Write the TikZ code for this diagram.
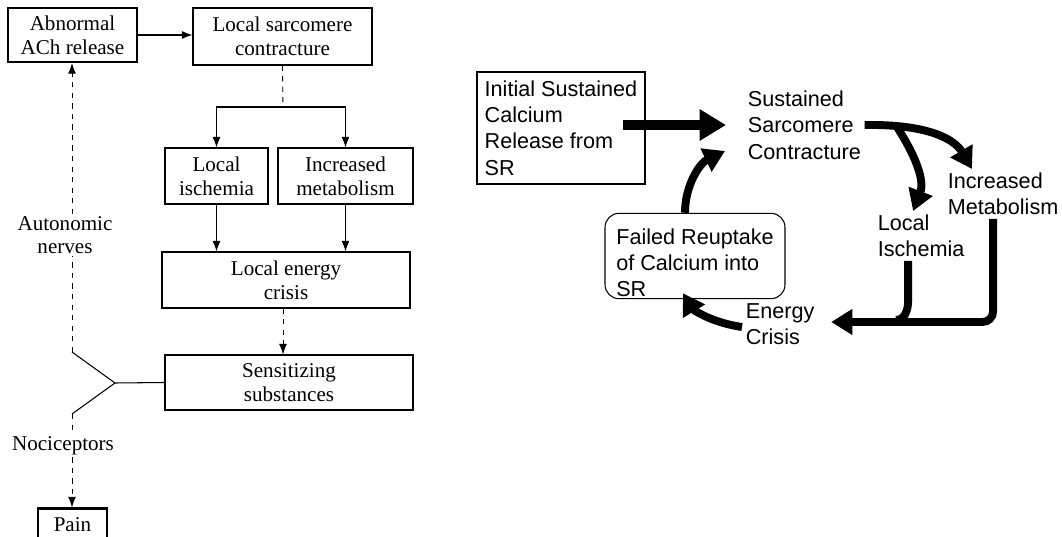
\documentclass[tikz,border=0pt]{standalone}
\usepackage{fontspec}
\setmainfont{Liberation Serif}
\setsansfont{Liberation Sans}
\usetikzlibrary{arrows.meta}

\begin{document}
\begin{tikzpicture}[x=0.02cm,y=-0.02cm,>={Latex[length=6pt,width=4.5pt]},
    box/.style={draw,line width=0.6pt,align=center,inner sep=0pt,font=\fontsize{12}{13.5}\selectfont},
    heavy box/.style={box,line width=1.3pt},
    side label/.style={align=center,inner sep=1pt,font=\fontsize{12}{13.5}\selectfont},
    broken/.style={dash pattern=on 3pt off 3pt,line width=0.5pt},
    text block/.style={align=left,inner sep=2pt,font=\sffamily\fontsize{12.3}{15}\selectfont},
    fat arrow/.style={line width=4.5pt,-{Triangle[length=12pt,width=14pt]}},
    fat line/.style={line width=4.5pt}]
  \clip (0,0) rectangle (1062,537);
  % left diagram
  \begin{scope}
    \node[heavy box,minimum width=2.58cm,minimum height=1.08cm] (abn) at (72.5,35) {Abnormal\\ACh release};
    \node[box,minimum width=3.58cm,minimum height=1.14cm] (con) at (282.5,36.5) {Local sarcomere\\contracture};
    \node[box,minimum width=2.06cm,minimum height=1.12cm] (isc) at (216.5,176) {Local\\ischemia};
    \node[box,minimum width=2.7cm,minimum height=1.12cm] (meta) at (345.5,176) {Increased\\metabolism};
    \node[box,minimum width=4.96cm,minimum height=1.12cm] (crisis) at (286,280) {Local energy\\crisis};
    \node[box,minimum width=4.96cm,minimum height=1.1cm] (sens) at (289,382.5) {Sensitizing\\substances};
    \node[heavy box,minimum width=1.38cm,minimum height=0.66cm] (pain) at (72.5,525) {Pain};
    \node[side label] (auto) at (65,235) {Autonomic\\nerves};
    \node[side label] (noci) at (63,446) {Nociceptors};
    \coordinate (split) at (283,107);
    \coordinate (fork) at (115,383);
    \coordinate (upper) at (72,352);
    \coordinate (lower) at (72,414);
    \path[->,line width=0.6pt] (abn.east) edge (abn.east -| con.west);
    \path[broken] (con.south) edge (split);
    \draw[->,line width=0.6pt] (split) -| (isc.north);
    \draw[->,line width=0.6pt] (split) -| (meta.north);
    \path[->,line width=0.6pt] (isc.south) edge (isc.south |- crisis.north);
    \path[->,line width=0.6pt] (meta.south) edge (meta.south |- crisis.north);
    \path[->,broken] ([xshift=-0.06cm]crisis.south) edge ([xshift=-0.06cm]crisis.south |- sens.north);
    \draw[line width=0.6pt] (sens.west) -- (fork) -- (upper);
    \draw[line width=0.6pt] (fork) -- (lower);
    \path[broken] (upper) edge (auto.south -| upper);
    \path[->,broken] (auto.north -| upper) edge (abn.south -| upper);
    \path[broken] (lower) edge (noci.north -| lower);
    \path[->,broken] (noci.south -| lower) edge (pain.north -| lower);
  \end{scope}
  % right diagram
  \begin{scope}
    \node[text block,draw,line width=0.6pt,minimum width=3.36cm,minimum height=2.24cm] (init) at (561,128) {Initial Sustained\\Calcium\\Release from\\SR};
    \node[text block,anchor=west] (sust) at (744,125) {Sustained\\Sarcomere\\Contracture};
    \node[text block,anchor=west] (incmet) at (944,194) {Increased\\Metabolism};
    \node[text block,anchor=west] (locisch) at (874,236) {Local\\Ischemia};
    \node[text block,anchor=west] (energy) at (742,324) {Energy\\Crisis};
    \node[text block,draw,line width=0.6pt,rounded corners=8pt,minimum width=3.6cm,minimum height=1.52cm,inner sep=1pt] (failed) at (695,256) {\rule{0pt}{0.58cm}Failed Reuptake\\of Calcium into\\SR};
    \coordinate (branch) at (897,127);
    \draw[fat arrow,line width=5.5pt,-{Triangle[length=15pt,width=17pt]}] ([xshift=-0.46cm]init.east |- sust.west) -- ([xshift=-0.36cm]sust.west);
    \draw[fat arrow] (sust.east) .. controls (930,124) and (955,140) .. ([xshift=0.56cm]incmet.north west);
    \draw[fat arrow] (branch) .. controls (915,155) and (925,180) .. ([xshift=-0.16cm]locisch.north);
    \draw[fat arrow,rounded corners=6pt] ([xshift=-0.2cm]incmet.south) |- ([xshift=0.26cm,yshift=0.04cm]energy.east);
    \draw[fat line] ([xshift=-0.26cm]locisch.south) -- ++(0,40) to[out=-90,in=0] ++(-12,19);
    \draw[fat arrow] ([yshift=-0.06cm]energy.west) .. controls (708,322) and (692,308) .. ([xshift=-0.24cm,yshift=0.12cm]failed.south);
    \draw[fat arrow] ([xshift=-0.2cm]failed.north) .. controls (685,185) and (700,163) .. ([xshift=-0.38cm,yshift=-0.52cm]sust.west);
  \end{scope}
\end{tikzpicture}
\end{document}
